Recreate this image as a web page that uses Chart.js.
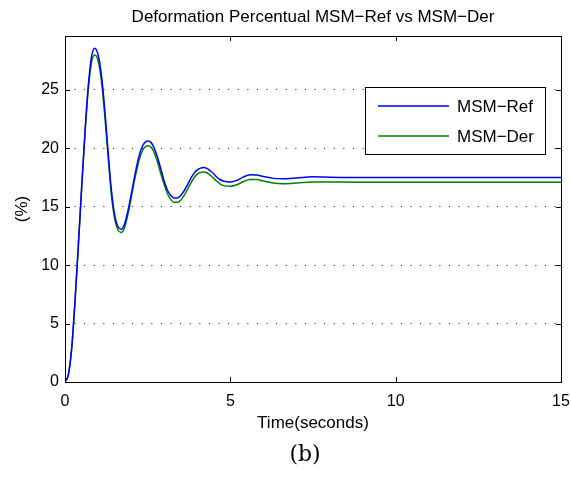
<!DOCTYPE html>
<html>
<head>
<meta charset="utf-8">
<script src="https://cdn.jsdelivr.net/npm/chart.js@4.4.1/dist/chart.umd.min.js"></script>
<style>
    body { margin: 0; background: #fff; }
    #wrap { width: 571px; height: 478px; }
</style>
</head>
<body>
<div id="wrap"><canvas id="myChart" width="571" height="478"></canvas></div>
<script>
// values
var Time = [0, 0.1, 0.2, 0.3, 0.4, 0.5, 0.6, 0.7, 0.8, 0.9, 1.0, 1.1, 1.2, 1.3, 1.4, 1.5, 1.6, 1.7, 1.8, 1.9,
    2.0, 2.1, 2.2, 2.3, 2.4, 2.5, 2.6, 2.7, 2.8, 2.9, 3.0, 3.1, 3.2, 3.3, 3.4, 3.5, 3.6, 3.7, 3.8, 3.9,
    4.0, 4.1, 4.2, 4.3, 4.4, 4.5, 4.6, 4.7, 4.8, 5.0, 5.2, 5.4, 5.6, 5.8, 6.0, 6.3, 6.6, 7.0, 7.5, 8.0,
    9.0, 10, 12, 15];
var MSMRef = [0, 0.6, 2.8, 6.8, 11.5, 16.5, 21.2, 25.2, 27.8, 28.55, 28.0, 26.3, 23.4, 19.8, 16.5, 14.3, 13.3, 13.07, 13.5, 14.6,
    16.0, 17.5, 18.9, 19.9, 20.45, 20.62, 20.5, 20.0, 19.2, 18.2, 17.2, 16.4, 15.95, 15.75, 15.75, 15.95, 16.35, 16.85, 17.4, 17.85,
    18.15, 18.3, 18.34, 18.25, 18.05, 17.8, 17.5, 17.3, 17.18, 17.12, 17.25, 17.55, 17.72, 17.7, 17.58, 17.42, 17.38, 17.45, 17.55, 17.52,
    17.49, 17.5, 17.5, 17.5];
var MSMDer = [0, 0.6, 2.8, 6.8, 11.5, 16.4, 21.0, 24.9, 27.3, 27.97, 27.5, 25.8, 22.9, 19.4, 16.1, 14.0, 13.0, 12.79, 13.2, 14.3,
    15.7, 17.2, 18.5, 19.5, 20.05, 20.22, 20.1, 19.6, 18.8, 17.8, 16.9, 16.1, 15.6, 15.38, 15.38, 15.55, 15.95, 16.45, 17.0, 17.45,
    17.78, 17.93, 17.97, 17.88, 17.68, 17.42, 17.15, 16.93, 16.8, 16.75, 16.88, 17.15, 17.33, 17.32, 17.2, 17.02, 16.97, 17.02, 17.12, 17.12,
    17.09, 17.09, 17.09, 17.09];
var xTicks = [0, 5, 10, 15];
var yTicks = [0, 5, 10, 15, 20, 25];

var FONT = "'Liberation Sans', Arial, Helvetica, sans-serif";

function toPoints(xs, ys) {
    var pts = [];
    for (var i in xs) {
        pts.push({ x: xs[i], y: ys[i] });
    }
    return pts;
}

// box, inward ticks, legend and texts (matlab look)
var matlabStuff = {
    id: 'matlabStuff',
    afterDraw: function (chart) {
        var ctx = chart.ctx;
        var a = chart.chartArea;
        var xs = chart.scales.x, ys = chart.scales.y;
        ctx.save();
        ctx.strokeStyle = '#000';
        ctx.lineWidth = 1;
        ctx.strokeRect(Math.round(a.left) + 0.5, Math.round(a.top) + 0.5,
            Math.round(a.right - a.left), Math.round(a.bottom - a.top));
        ctx.beginPath();
        xTicks.forEach(function (v) {
            var px = Math.round(xs.getPixelForValue(v)) + 0.5;
            ctx.moveTo(px, a.bottom); ctx.lineTo(px, a.bottom - 5);
            ctx.moveTo(px, a.top); ctx.lineTo(px, a.top + 5);
        });
        yTicks.forEach(function (v) {
            var py = Math.round(ys.getPixelForValue(v)) + 0.5;
            ctx.moveTo(a.left, py); ctx.lineTo(a.left + 5, py);
            ctx.moveTo(a.right, py); ctx.lineTo(a.right - 5, py);
        });
        ctx.stroke();

        // legend
        var lx = 365, ly = 87, lw = 180, lh = 67;
        ctx.fillStyle = '#fff';
        ctx.fillRect(lx, ly, lw, lh);
        ctx.strokeRect(lx + 0.5, ly + 0.5, lw, lh);
        ctx.font = '17px ' + FONT;
        ctx.textAlign = 'left';
        ctx.textBaseline = 'middle';
        chart.data.datasets.forEach(function (ds, i) {
            var yy = ly + 19 + i * 30;
            ctx.strokeStyle = ds.borderColor;
            ctx.lineWidth = ds.borderWidth;
            ctx.beginPath();
            ctx.moveTo(lx + 13, yy); ctx.lineTo(lx + 84, yy);
            ctx.stroke();
            ctx.fillStyle = '#000';
            ctx.fillText(ds.label, lx + 92, yy + 1);
        });

        // title and axis labels
        var cx = (a.left + a.right) / 2;
        ctx.fillStyle = '#000';
        ctx.textAlign = 'center';
        ctx.font = '17px ' + FONT;
        ctx.fillText('Deformation Percentual MSM\u2212Ref vs MSM\u2212Der', cx, 17);
        ctx.fillText('Time(seconds)', cx, 423);
        ctx.save();
        ctx.translate(22, (a.top + a.bottom) / 2);
        ctx.rotate(-Math.PI / 2);
        ctx.fillText('(%)', 0, 0);
        ctx.restore();
        ctx.font = "22px 'DejaVu Serif', 'Liberation Serif', serif";
        ctx.fillText('(b)', 305, 455);
        ctx.restore();
    }
};

window.onload = function () {
    var chartdata = {
        datasets: [
            {
                label: 'MSM\u2212Ref',
                borderColor: '#0000ff',
                borderWidth: 1.5,
                pointRadius: 0,
                fill: false,
                cubicInterpolationMode: 'monotone',
                data: toPoints(Time, MSMRef)
            },
            {
                label: 'MSM\u2212Der',
                borderColor: '#008000',
                borderWidth: 1.5,
                pointRadius: 0,
                fill: false,
                cubicInterpolationMode: 'monotone',
                data: toPoints(Time, MSMDer)
            }
        ]
    };

    var ctx = document.getElementById('myChart');
    var myChart = new Chart(ctx, {
        type: 'line',
        data: chartdata,
        options: {
            responsive: false,
            animation: false,
            layout: { padding: { top: 36, right: 10, left: 0, bottom: 0 } },
            plugins: {
                legend: { display: false },
                tooltip: { enabled: false }
            },
            scales: {
                x: {
                    type: 'linear',
                    min: 0,
                    max: 15,
                    afterBuildTicks: function (scale) {
                        scale.ticks = xTicks.map(function (v) { return { value: v }; });
                    },
                    afterFit: function (scale) {
                        scale.height = 96;
                        scale.paddingLeft = 0;
                        scale.paddingRight = 0;
                    },
                    grid: { display: false, drawTicks: false },
                    border: { display: false },
                    ticks: {
                        color: '#000',
                        padding: 10,
                        maxRotation: 0,
                        font: { family: FONT, size: 16 }
                    }
                },
                y: {
                    min: 0,
                    max: 29.6,
                    afterBuildTicks: function (scale) {
                        scale.ticks = yTicks.map(function (v) { return { value: v }; });
                    },
                    afterFit: function (scale) {
                        scale.width = 65;
                        scale.paddingTop = 0;
                        scale.paddingBottom = 0;
                    },
                    grid: {
                        drawTicks: false,
                        color: '#000',
                        lineWidth: 1
                    },
                    border: { display: false, dash: [1, 8.6] },
                    ticks: {
                        color: '#000',
                        padding: 6,
                        font: { family: FONT, size: 16 }
                    }
                }
            }
        },
        plugins: [matlabStuff]
    });
};
</script>
</body>
</html>
